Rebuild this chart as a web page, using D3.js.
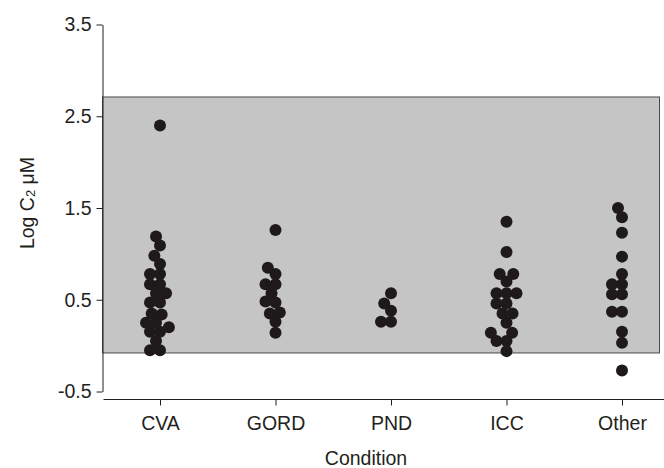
<!DOCTYPE html>
<html>
<head>
<meta charset="utf-8">
<script src="https://cdn.jsdelivr.net/npm/d3@7"></script>
<style>
  html, body { margin: 0; padding: 0; background: #fff; }
  svg { display: block; font-family: "Liberation Sans", Arial, Helvetica, sans-serif; }
</style>
</head>
<body>
<svg id="chart" width="664" height="468"></svg>
<script>
// ---- data ----
const categories = ["CVA", "GORD", "PND", "ICC", "Other"];
const cvaValues   = [2.40, 1.19, 1.09, 0.98, 0.89, 0.78, 0.78, 0.67, 0.67, 0.57, 0.57, 0.47, 0.47, 0.35, 0.34, 0.25, 0.25, 0.20, 0.15, 0.15, 0.05, -0.05, -0.05];
const gordValues  = [1.26, 0.85, 0.78, 0.67, 0.67, 0.57, 0.48, 0.47, 0.36, 0.35, 0.26, 0.14];
const pndValues   = [0.57, 0.46, 0.38, 0.26, 0.26];
const iccValues   = [1.35, 1.02, 0.78, 0.78, 0.70, 0.57, 0.57, 0.57, 0.46, 0.46, 0.35, 0.35, 0.25, 0.14, 0.14, 0.05, 0.05, -0.06];
const otherValues = [1.50, 1.40, 1.23, 0.97, 0.78, 0.67, 0.67, 0.56, 0.56, 0.37, 0.37, 0.15, 0.03, -0.27];
const normalRange = [-0.08, 2.71];
const yTicks = [-0.5, 0.5, 1.5, 2.5, 3.5];
const yTickLabels = ["-0.5", "0.5", "1.5", "2.5", "3.5"];

const seriesValues = [cvaValues, gordValues, pndValues, iccValues, otherValues];

// ---- layout ----
const svg = d3.select("#chart");
const yAxisX = 102.5;
const xAxisY = 399.5;
const r = 6;
const fs = 19.5;
const ink = "#231f20";

const y = d3.scaleLinear().domain([-0.5, 3.5]).range([391.5, 24.5]);
const x = d3.scalePoint().domain(categories).range([160, 622]);

// shaded normal range
svg.append("rect")
  .attr("x", yAxisX)
  .attr("y", y(normalRange[1]))
  .attr("width", 659.5 - yAxisX)
  .attr("height", y(normalRange[0]) - y(normalRange[1]))
  .attr("fill", "#c5c5c5")
  .attr("stroke", "#4a4a4a")
  .attr("stroke-width", 1);

// y axis
const yAxis = d3.axisLeft(y)
  .tickValues(yTicks)
  .tickFormat((d, i) => yTickLabels[i])
  .tickSize(6)
  .tickSizeOuter(0)
  .tickPadding(5);
const gy = svg.append("g").attr("transform", `translate(${yAxisX},0)`).call(yAxis);
gy.selectAll("text").attr("font-size", fs).attr("fill", ink)
  .attr("font-family", '"Liberation Sans", Arial, sans-serif');
gy.selectAll("line, path").attr("stroke", ink);

// x axis
const xAxis = d3.axisBottom(x).tickSize(6).tickSizeOuter(0).tickPadding(11);
const gx = svg.append("g").attr("transform", `translate(0,${xAxisY})`).call(xAxis);
gx.select("path.domain").attr("d", `M${yAxisX + 1},0H664`);
gx.selectAll("text").attr("font-size", fs).attr("fill", ink)
  .attr("font-family", '"Liberation Sans", Arial, sans-serif');
gx.selectAll("line, path").attr("stroke", ink);

// axis titles
svg.append("text")
  .attr("x", 366).attr("y", 465)
  .attr("text-anchor", "middle")
  .attr("font-size", fs).attr("fill", ink)
  .text("Condition");

const yt = svg.append("text")
  .attr("transform", "translate(34,203) rotate(-90)")
  .attr("text-anchor", "middle")
  .attr("font-size", fs).attr("fill", ink);
yt.append("tspan").text("Log C");
yt.append("tspan").attr("font-size", 13).attr("dy", 1).text("2");
yt.append("tspan").attr("dy", -1).text(" \u03bcM");

// ---- beeswarm layout (greedy, computed) ----
function swarm(values, cx) {
  const D = 10;
  const pts = values.map(v => ({ v, py: y(v) }))
    .sort((a, b) => a.v - b.v);
  const placed = [];
  pts.forEach(p => {
    const intervals = [];
    placed.forEach(q => {
      const dy = Math.abs(q.py - p.py);
      if (dy < D) {
        const h = Math.sqrt(D * D - dy * dy);
        intervals.push([q.dx - h, q.dx + h]);
      }
    });
    const cands = [0];
    intervals.forEach(iv => { cands.push(iv[0], iv[1]); });
    cands.sort((a, b) => Math.abs(a) - Math.abs(b) || a - b);
    let chosen = 0;
    for (const c of cands) {
      if (intervals.every(iv => c <= iv[0] + 1e-6 || c >= iv[1] - 1e-6)) { chosen = c; break; }
    }
    p.dx = chosen;
    placed.push(p);
  });
  return placed.map(p => ({ v: p.v, px: cx + p.dx }));
}

categories.forEach((c, i) => {
  const pts = swarm(seriesValues[i], x(c));
  svg.append("g").selectAll("circle")
    .data(pts)
    .join("circle")
    .attr("cx", d => d.px)
    .attr("cy", d => y(d.v))
    .attr("r", r)
    .attr("fill", "#1e1a1b");
});
</script>
</body>
</html>
